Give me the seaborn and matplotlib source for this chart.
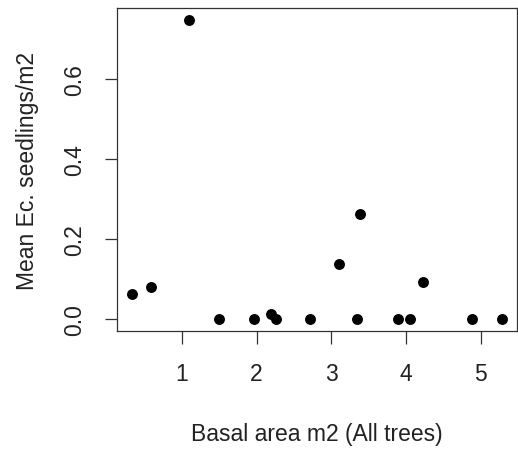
import matplotlib
matplotlib.use("Agg")
import matplotlib.pyplot as plt
import seaborn as sns
import pandas as pd

# values
basal_area = [0.33, 0.585, 1.10, 1.50, 1.96, 2.19, 2.26, 2.72, 3.11, 3.35,
              3.39, 3.90, 4.06, 4.23, 4.89, 5.29]
seedlings = [0.062, 0.080, 0.749, 0.0, 0.0, 0.012, 0.0, 0.0, 0.139, 0.0,
             0.264, 0.0, 0.0, 0.093, 0.0, 0.0]
x_ticks = [1, 2, 3, 4, 5]
y_ticks = [0.0, 0.2, 0.4, 0.6]

df = pd.DataFrame({"basal": basal_area, "seed": seedlings})

sns.set_style("white")
plt.rcParams['font.family'] = ['Liberation Sans', 'DejaVu Sans']

fig = plt.figure(figsize=(5.18, 4.52), dpi=100)
ax = fig.add_axes([117 / 518, 1 - 332 / 452, 400 / 518, 323 / 452])

sns.scatterplot(data=df, x="basal", y="seed", ax=ax, color="black",
                s=62, edgecolor="black", linewidth=0)

# R style: extend range by 4%
xr = max(basal_area) - min(basal_area)
ax.set_xlim(min(basal_area) - 0.04 * xr, max(basal_area) + 0.04 * xr)
yr = max(seedlings) - min(seedlings)
ax.set_ylim(min(seedlings) - 0.04 * yr, max(seedlings) + 0.04 * yr)

ax.set_xticks(x_ticks)
ax.set_xticklabels([str(t) for t in x_ticks])
ax.set_yticks(y_ticks)
ax.set_yticklabels(["%.1f" % t for t in y_ticks], rotation=90, va="center")

ax.tick_params(axis="both", direction="out", length=9, width=0.9,
               bottom=True, left=True,
               color="#333333", labelsize=16.5, pad=13, labelcolor="#222222")
for sp in ax.spines.values():
    sp.set_visible(True)
    sp.set_color("#333333")
    sp.set_linewidth(0.9)

ax.set_xlabel("Basal area m2 (All trees)", fontsize=16.5, color="#222222")
ax.set_ylabel("Mean Ec. seedlings/m2", fontsize=16.5, color="#222222")
ax.xaxis.set_label_coords(0.5, -0.283)
ax.yaxis.set_label_coords(-0.196, 0.5)

fig.savefig("out.png", dpi=100)
